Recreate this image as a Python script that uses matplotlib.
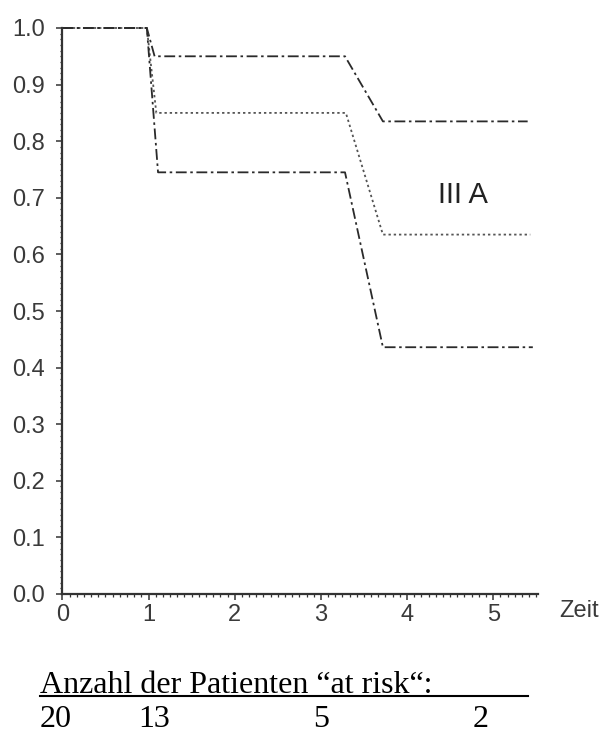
"""
Kaplan-Meier style survival curves for stage III A with the number of
patients at risk printed below the chart.
"""

import matplotlib

matplotlib.use("Agg")

import matplotlib.pyplot as plt
from matplotlib.lines import Line2D
from matplotlib.ticker import MultipleLocator

# Survival curves (time in years, survival fraction)
upper_time = [0.0, 0.98, 1.07, 3.28, 3.72, 5.40]
upper_surv = [1.0, 1.0, 0.95, 0.95, 0.835, 0.835]

middle_time = [0.0, 0.98, 1.09, 3.29, 3.72, 5.43]
middle_surv = [1.0, 1.0, 0.85, 0.85, 0.635, 0.635]

lower_time = [0.0, 0.98, 1.11, 3.28, 3.72, 5.46]
lower_surv = [1.0, 1.0, 0.745, 0.745, 0.436, 0.436]

x_ticks = [0, 1, 2, 3, 4, 5]
y_ticks = [0.0, 0.1, 0.2, 0.3, 0.4, 0.5, 0.6, 0.7, 0.8, 0.9, 1.0]

stage_label = "III A"
risk_title = "Anzahl der Patienten \u201cat risk\u201c:"
at_risk = [20, 13, 5, 2]

W, H = 602, 733
AXIS_GREY = "#333333"
TEXT_GREY = "#3a3a3a"


def px_x(x):
    return x / W


def px_y(y):
    return 1 - y / H


def plot_curves(ax):
    """Draw the three survival curves."""
    dashdot = (0, (6, 2, 1.4, 2))
    ax.plot(upper_time, upper_surv, color="#2a2a2a", lw=1.3,
            linestyle=dashdot, clip_on=False)
    ax.plot(middle_time, middle_surv, color="#555555", lw=1.3,
            linestyle=(0, (1.3, 1.6)), clip_on=False)
    ax.plot(lower_time, lower_surv, color="#2a2a2a", lw=1.3,
            linestyle=dashdot, clip_on=False)


def style_axes(ax):
    """Axis look of the old statistics package."""
    ax.set_xlim(0, 5.52)
    ax.set_ylim(0, 1.0)
    for side in ("top", "right"):
        ax.spines[side].set_visible(False)
    for side in ("left", "bottom"):
        ax.spines[side].set_color(AXIS_GREY)
        ax.spines[side].set_linewidth(1.6)

    ax.set_xticks(x_ticks)
    ax.set_yticks(y_ticks)
    ax.set_yticklabels([f"{v:.1f}" for v in y_ticks])
    ax.xaxis.set_minor_locator(MultipleLocator(1 / 12))
    ax.yaxis.set_minor_locator(MultipleLocator(0.01))

    ax.tick_params(which="major", direction="out", length=4.3, width=1.1,
                   color=AXIS_GREY, labelcolor=TEXT_GREY, labelsize=17)
    ax.tick_params(which="minor", direction="out", length=1.8, width=0.9,
                   color=AXIS_GREY)
    ax.tick_params(axis="y", which="major", pad=8)
    ax.tick_params(axis="x", which="major", pad=3)
    for lab in ax.get_xticklabels() + ax.get_yticklabels():
        lab.set_fontfamily("Liberation Sans")


def main():
    fig = plt.figure(figsize=(W / 100, H / 100), dpi=100)
    ax = fig.add_axes([px_x(62.4), px_y(594), px_x(538 - 62.4),
                       (594 - 28) / H])

    plot_curves(ax)
    style_axes(ax)

    ax.text(4.36, 0.705, stage_label, ha="left", va="center", fontsize=21,
            family="Liberation Sans", color="#222222")
    fig.text(px_x(559), px_y(611), "Zeit", ha="left", va="center",
             fontsize=17, family="Liberation Sans", color=TEXT_GREY)

    # At-risk table, typed below the chart
    fig.text(px_x(40), px_y(693), risk_title, ha="left", va="baseline",
             fontsize=23, family="Liberation Serif", color="black")
    fig.add_artist(Line2D([px_x(40), px_x(528)], [px_y(696), px_y(696)],
                          color="black", lw=1.5))
    count_x = [40, 138, 313, 473]
    for n, xp in zip(at_risk, count_x):
        fig.text(px_x(xp), px_y(727), str(n), ha="left", va="baseline",
                 fontsize=23, family="Liberation Serif", color="black")

    fig.savefig("out.png", dpi=100, facecolor="white")
    plt.close(fig)


if __name__ == "__main__":
    main()
